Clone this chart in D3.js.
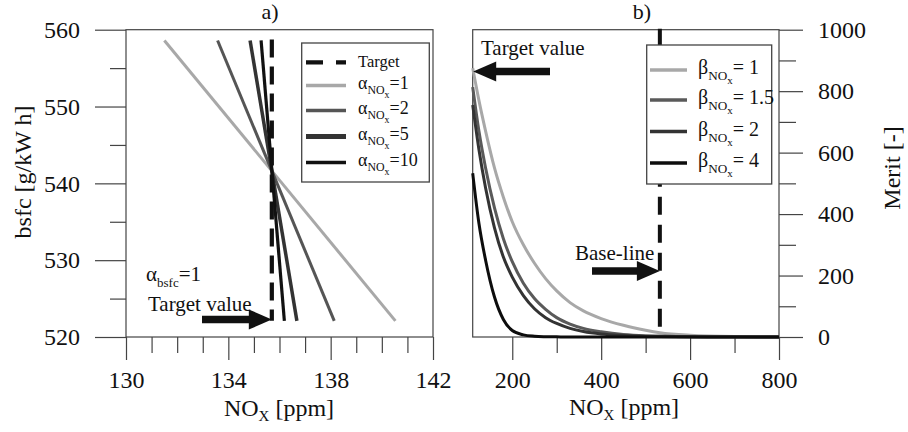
<!DOCTYPE html>
<html>
<head>
<meta charset="utf-8">
<script src="https://cdn.jsdelivr.net/npm/d3@7"></script>
<style>
  body { margin: 0; background: #fff; }
</style>
</head>
<body>
<script>
// panel a) straight lines through the target point
let alphaLabels = ["1", "2", "5", "10"]
let alphaNoxStart = [131.5, 133.58, 134.85, 135.28]
let alphaNoxEnd = [140.53, 138.14, 136.68, 136.19]
let bsfcEnds = [558.6, 522.1]
let targetNox = 135.7
let bsfcMajor = [520, 530, 540, 550, 560]
let bsfcMinor = [525, 535, 545, 555]
let noxMajorA = [130, 134, 138, 142]
let noxMinorA = [131, 132, 133, 135, 136, 137, 139, 140, 141]

// panel b) merit curves
let betaLabels = ["1", "1.5", "2", "4"]
let noxGrid = [111, 125, 140, 160, 180, 200, 225, 250, 275, 300, 330, 360, 400, 450, 500, 532, 600, 700, 800]
let meritB1 = [875, 770, 670, 550, 455, 375, 300, 240, 190, 150, 112, 85, 60, 38, 22, 14, 6, 2, 1]
let meritB15 = [813, 670, 550, 420, 320, 245, 175, 125, 90, 63, 42, 28, 17, 8, 4, 3, 1, 0.5, 0]
let meritB2 = [755, 610, 485, 355, 260, 195, 135, 92, 63, 44, 28, 18, 10, 5, 2, 1.5, 0.5, 0, 0]
let meritB4 = [533, 370, 250, 130, 57, 21, 7, 2.5, 1, 0.5, 0, 0, 0, 0, 0, 0, 0, 0, 0]
let baselineNox = 532
let meritMajor = [0, 200, 400, 600, 800, 1000]
let meritMinor = [100, 300, 500, 700, 900]
let noxMajorB = [200, 400, 600, 800]
let noxMinorB = [300, 500, 700]

let width = 908, height = 432
let plotTop = 29.7, plotBottom = 337
let serif = "'Liberation Serif', 'Times New Roman', serif"

let svg = d3.select('body').append('svg')
  .attr('width', width).attr('height', height)
  .style('font-family', serif)
svg.append('rect').attr('width', width).attr('height', height).attr('fill', '#fff')

let xa = d3.scaleLinear().domain([130, 142]).range([126, 433])
let ya = d3.scaleLinear().domain([520, 560]).range([plotBottom, plotTop])
let xb = d3.scaleLinear().domain([111, 800]).range([472.7, 779])
let yb = d3.scaleLinear().domain([0, 1000]).range([plotBottom, plotTop])

function txt(g) {
  return g.append('text').style('font-family', serif).attr('fill', '#111')
}

function styleAxis(g) {
  g.attr('font-family', null).attr('font-size', null)
  g.select('.domain').remove()
  g.selectAll('line').attr('stroke', '#444').attr('stroke-width', 1.2)
  g.selectAll('text').attr('fill', '#111')
    .style('font-family', serif).style('font-size', '24px')
}

function noxTitle(x, y) {
  let t = txt(svg).attr('x', x).attr('y', y).attr('text-anchor', 'middle').attr('font-size', 24)
  t.append('tspan').text('NO')
  t.append('tspan').text('X').attr('font-size', 15).attr('dy', 5)
  t.append('tspan').text(' [ppm]').attr('dy', -5)
}

function subLabel(g, x, y, main, val, size) {
  let t = txt(g).attr('x', x).attr('y', y).attr('font-size', size)
  t.append('tspan').text(main)
  t.append('tspan').text('NO').attr('font-size', size * 0.66).attr('dy', size * 0.3)
  t.append('tspan').text('x').attr('font-size', size * 0.55).attr('dy', size * 0.22)
  t.append('tspan').text(val).attr('dy', -size * 0.52)
}

function arrow(x1, x2, y) {
  // shaft from x1 to tip at x2
  let dir = x2 > x1 ? 1 : -1
  let hb = x2 - dir * 18
  svg.append('line').attr('x1', x1).attr('x2', hb).attr('y1', y).attr('y2', y)
    .attr('stroke', '#111').attr('stroke-width', 7.5)
  svg.append('path')
    .attr('d', `M${x2},${y} L${hb - dir * 5},${y - 10} L${hb - dir * 5},${y + 10} Z`)
    .attr('fill', '#111')
}

// ---------- panel a ----------
svg.append('g').attr('transform', 'translate(126,0)')
  .call(d3.axisLeft(ya).tickValues(bsfcMinor).tickSize(16).tickSizeOuter(0).tickFormat(''))
  .call(styleAxis)
svg.append('g').attr('transform', 'translate(126,0)')
  .call(d3.axisLeft(ya).tickValues(bsfcMajor).tickSize(31).tickPadding(15).tickSizeOuter(0).tickFormat(d3.format('d')))
  .call(styleAxis)
svg.append('g').attr('transform', `translate(0,${plotBottom})`)
  .call(d3.axisBottom(xa).tickValues(noxMinorA).tickSize(16).tickSizeOuter(0).tickFormat(''))
  .call(styleAxis)
svg.append('g').attr('transform', `translate(0,${plotBottom})`)
  .call(d3.axisBottom(xa).tickValues(noxMajorA).tickSize(23).tickPadding(11).tickSizeOuter(0).tickFormat(d3.format('d')))
  .call(styleAxis)
svg.append('rect').attr('x', xa(130)).attr('y', plotTop)
  .attr('width', xa(142) - xa(130)).attr('height', plotBottom - plotTop)
  .attr('fill', 'none').attr('stroke', '#444').attr('stroke-width', 1.2)

let alphaColors = ['#a8a8a8', '#555', '#333', '#111']
let alphaWidths = [3, 3, 3.5, 3.2]

svg.append('line')
  .attr('x1', xa(targetNox)).attr('x2', xa(targetNox))
  .attr('y1', ya(bsfcEnds[0]) - 1).attr('y2', ya(bsfcEnds[1]))
  .attr('stroke', '#111').attr('stroke-width', 4.2).attr('stroke-dasharray', '18,9')

alphaLabels.forEach((a, i) => {
  svg.append('line')
    .attr('x1', xa(alphaNoxStart[i])).attr('y1', ya(bsfcEnds[0]))
    .attr('x2', xa(alphaNoxEnd[i])).attr('y2', ya(bsfcEnds[1]))
    .attr('stroke', alphaColors[i]).attr('stroke-width', alphaWidths[i])
})

// legend a
let lga = svg.append('g')
lga.append('rect').attr('x', 301.7).attr('y', 43).attr('width', 127.6).attr('height', 139)
  .attr('fill', '#fff').attr('stroke', '#444').attr('stroke-width', 1.3)
let rowsA = [62.3, 85.5, 110.5, 136.5, 162.5]
lga.append('line').attr('x1', 306).attr('x2', 346).attr('y1', rowsA[0]).attr('y2', rowsA[0])
  .attr('stroke', '#111').attr('stroke-width', 4.2).attr('stroke-dasharray', '17,13')
txt(lga).attr('x', 358).attr('y', rowsA[0] + 4.5).attr('font-size', 16.5).text('Target')
alphaLabels.forEach((a, i) => {
  lga.append('line').attr('x1', 306).attr('x2', 346).attr('y1', rowsA[i + 1]).attr('y2', rowsA[i + 1])
    .attr('stroke', alphaColors[i]).attr('stroke-width', i == 2 ? 5 : alphaWidths[i] + 0.5)
  subLabel(lga, 358, rowsA[i + 1] + 3, 'α', '=' + a, 18)
})

// annotations a
let ab = txt(svg).attr('x', 146).attr('y', 281).attr('font-size', 21)
ab.append('tspan').text('α')
ab.append('tspan').text('bsfc').attr('font-size', 13).attr('dy', 6)
ab.append('tspan').text('=1').attr('dy', -6)
txt(svg).attr('x', 148).attr('y', 311).attr('font-size', 21).text('Target value')
arrow(202, xa(targetNox), 319.5)

txt(svg).attr('x', 270).attr('y', 19).attr('text-anchor', 'middle').attr('font-size', 22).text('a)')
txt(svg).attr('transform', 'translate(31,172) rotate(-90)')
  .attr('text-anchor', 'middle').attr('font-size', 24).text('bsfc [g/kW h]')
noxTitle(279, 416)

// ---------- panel b ----------
svg.append('g').attr('transform', 'translate(779,0)')
  .call(d3.axisRight(yb).tickValues(meritMinor).tickSize(17).tickSizeOuter(0).tickFormat(''))
  .call(styleAxis)
svg.append('g').attr('transform', 'translate(779,0)')
  .call(d3.axisRight(yb).tickValues(meritMajor).tickSize(24).tickPadding(15).tickSizeOuter(0).tickFormat(d3.format('d')))
  .call(styleAxis)
svg.append('g').attr('transform', `translate(0,${plotBottom})`)
  .call(d3.axisBottom(xb).tickValues(noxMinorB).tickSize(16).tickSizeOuter(0).tickFormat(''))
  .call(styleAxis)
svg.append('g').attr('transform', `translate(0,${plotBottom})`)
  .call(d3.axisBottom(xb).tickValues(noxMajorB).tickSize(23).tickPadding(11).tickSizeOuter(0).tickFormat(d3.format('d')))
  .call(styleAxis)
svg.append('rect').attr('x', xb(111)).attr('y', plotTop)
  .attr('width', xb(800) - xb(111)).attr('height', plotBottom - plotTop)
  .attr('fill', 'none').attr('stroke', '#444').attr('stroke-width', 1.2)

svg.append('line')
  .attr('x1', xb(baselineNox)).attr('x2', xb(baselineNox))
  .attr('y1', plotTop - 1).attr('y2', plotBottom)
  .attr('stroke', '#111').attr('stroke-width', 4).attr('stroke-dasharray', '18,10')

let betaSeries = [meritB1, meritB15, meritB2, meritB4]
let betaColors = ['#a8a8a8', '#5a5a5a', '#333', '#0d0d0d']
let line = d3.line()
  .x((d, i) => xb(noxGrid[i]))
  .y(d => yb(d))
  .curve(d3.curveMonotoneX)

betaSeries.forEach((s, i) => {
  svg.append('path').datum(s).attr('d', line)
    .attr('fill', 'none').attr('stroke', betaColors[i]).attr('stroke-width', 3)
})

// legend b
let lgb = svg.append('g')
lgb.append('rect').attr('x', 646.7).attr('y', 45).attr('width', 125).attr('height', 139)
  .attr('fill', '#fff').attr('stroke', '#444').attr('stroke-width', 1.3)
let rowsB = [70, 100, 131.5, 163]
betaLabels.forEach((b, i) => {
  lgb.append('line').attr('x1', 650).attr('x2', 687).attr('y1', rowsB[i]).attr('y2', rowsB[i])
    .attr('stroke', betaColors[i]).attr('stroke-width', 3.5)
  subLabel(lgb, 698, rowsB[i] + 4, 'β', '= ' + b, 20)
})

// annotations b
txt(svg).attr('x', 481).attr('y', 55).attr('font-size', 21).text('Target value')
arrow(550, xb(111) + 0.5, 71.5)
txt(svg).attr('x', 575).attr('y', 260).attr('font-size', 21).text('Base-line')
arrow(592, xb(baselineNox), 271)

txt(svg).attr('x', 642).attr('y', 19).attr('text-anchor', 'middle').attr('font-size', 22).text('b)')
txt(svg).attr('transform', 'translate(900,168) rotate(-90)')
  .attr('text-anchor', 'middle').attr('font-size', 24).text('Merit [-]')
noxTitle(624, 415)
</script>
</body>
</html>
